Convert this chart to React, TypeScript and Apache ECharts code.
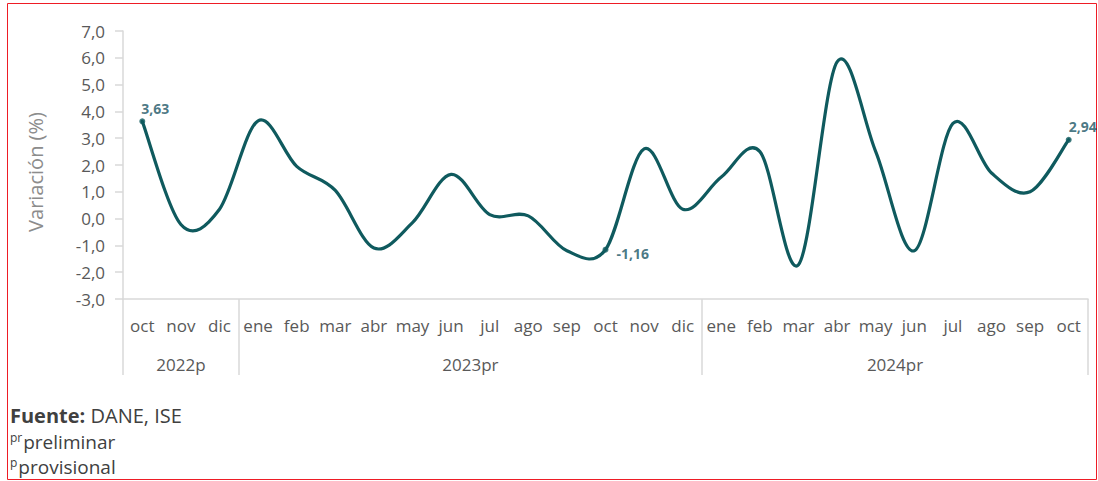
import React, { useEffect, useRef } from "react";
import * as echarts from "echarts";

const months = ["oct", "nov", "dic", "ene", "feb", "mar", "abr", "may", "jun", "jul", "ago", "sep", "oct", "nov", "dic", "ene", "feb", "mar", "abr", "may", "jun", "jul", "ago", "sep", "oct"];
const values = [3.63, -0.22, 0.35, 3.65, 1.95, 1.05, -1.1, -0.15, 1.65, 0.15, 0.1, -1.2, -1.16, 2.6, 0.35, 1.55, 2.5, -1.72, 5.85, 2.5, -1.2, 3.55, 1.7, 1.0, 2.94];
const yearGroups = ["2022p", "2023pr", "2024pr"];
const yearSizes = [3, 12, 10];
const labeledIdx = [0, 12, 24];
const yTicks = { min: -3, max: 7, interval: 1 };

const FONT = "Open Sans";
const LINE = "#0f5a5e";
const AXIS_TXT = "#595959";
const GRID_LINE = "#d9d9d9";

export default function App() {
  const ref = useRef<HTMLDivElement>(null);
  useEffect(() => {
    if (!ref.current) return;
    const chart = echarts.init(ref.current, null, { renderer: "svg" });
    const bounds: number[] = [0];
    yearSizes.forEach((s) => bounds.push(bounds[bounds.length - 1] + s));
    const mids = yearGroups.map((_, i) => (bounds[i] + bounds[i + 1]) / 2);
    const fmt = (v: number, d: number) => v.toFixed(d).replace(".", ",");
    const labelPos: any[] = [
      { position: "top", offset: [13, 2] },
      { position: "right", distance: 8, offset: [0, 4] },
      { position: "top", offset: [14, 2] },
    ];
    const markers = labeledIdx.map((i, k) => ({
      value: [i, values[i]],
      label: {
        show: true,
        formatter: fmt(values[i], 2),
        fontFamily: FONT,
        fontWeight: "bold",
        fontSize: 14,
        color: "#1b5565",
        ...labelPos[k],
      },
    }));

    const renderCurve = (params: any, api: any) => {
      if (params.dataIndex !== 0) return null;
      const p = values.map((v, i) => api.coord([i, v]));
      const n = p.length;
      const at = (i: number) => p[Math.max(0, Math.min(n - 1, i))];
      let d = `M${p[0][0]},${p[0][1]}`;
      for (let i = 0; i < n - 1; i++) {
        const p0 = at(i - 1), p1 = at(i), p2 = at(i + 1), p3 = at(i + 2);
        const c1x = p1[0] + (p2[0] - p0[0]) / 6;
        const c1y = p1[1] + (p2[1] - p0[1]) / 6;
        const c2x = p2[0] - (p3[0] - p1[0]) / 6;
        const c2y = p2[1] - (p3[1] - p1[1]) / 6;
        d += ` C${c1x},${c1y} ${c2x},${c2y} ${p2[0]},${p2[1]}`;
      }
      return {
        type: "path",
        shape: { pathData: d },
        style: { stroke: LINE, lineWidth: 3.2, fill: "none", lineJoin: "round", lineCap: "round" },
      };
    };

    chart.setOption({
      animation: false,
      backgroundColor: "#ffffff",
      grid: { left: 123, right: 10, top: 31, height: 268, containLabel: false },
      xAxis: [
        {
          type: "category",
          data: months,
          position: "bottom",
          boundaryGap: true,
          axisLine: { show: false },
          axisTick: { show: false },
          axisLabel: { interval: 0, margin: 18, fontSize: 17, color: AXIS_TXT, fontFamily: FONT },
          splitLine: { show: false },
        },
        {
          type: "value",
          min: 0,
          max: bounds[bounds.length - 1],
          position: "bottom",
          axisLine: { show: false },
          splitLine: { show: false },
          axisTick: {
            show: true,
            customValues: bounds,
            length: 76,
            lineStyle: { color: GRID_LINE, width: 1.5 },
          },
          axisLabel: {
            show: true,
            customValues: mids,
            margin: 57,
            fontSize: 17,
            color: AXIS_TXT,
            fontFamily: FONT,
            formatter: (v: number) => {
              const i = mids.findIndex((m) => Math.abs(m - v) < 1e-6);
              return i >= 0 ? yearGroups[i] : "";
            },
          },
        },
        {
          type: "category",
          data: months,
          position: "bottom",
          axisLine: { show: true, onZero: true, lineStyle: { color: GRID_LINE, width: 1.5 } },
          axisTick: { show: false },
          axisLabel: { show: false },
          splitLine: { show: false },
        },
      ],
      yAxis: {
        type: "value",
        min: yTicks.min,
        max: yTicks.max,
        interval: yTicks.interval,
        axisLine: { show: true, lineStyle: { color: GRID_LINE, width: 1.5 } },
        axisTick: { show: true, length: 8, lineStyle: { color: GRID_LINE, width: 1.5 } },
        axisLabel: {
          margin: 18,
          fontSize: 17,
          color: AXIS_TXT,
          fontFamily: FONT,
          formatter: (v: number) => fmt(v, 1),
        },
        splitLine: { show: false },
      },
      series: [
        {
          type: "custom",
          xAxisIndex: 0,
          data: values.map((v, i) => [i, v]),
          encode: { x: 0, y: 1 },
          renderItem: renderCurve,
          silent: true,
          z: 5,
        },
        {
          type: "scatter",
          xAxisIndex: 0,
          data: markers,
          symbol: "circle",
          symbolSize: 6,
          itemStyle: { color: LINE },
          z: 6,
        },
      ],
      graphic: [
        {
          type: "rect",
          shape: { x: 7.5, y: 3.5, width: 1089, height: 476 },
          style: { fill: "none", stroke: "#ee1c25", lineWidth: 1 },
          silent: true,
        },
        {
          type: "text",
          x: 35,
          y: 172,
          rotation: Math.PI / 2,
          style: {
            text: "Variación (%)",
            fontFamily: FONT,
            fontSize: 20,
            fill: "#8c8c8c",
            align: "center",
            verticalAlign: "middle",
          },
        },
        {
          type: "text",
          left: 10,
          top: 405,
          style: {
            text: "{b|Fuente:} DANE, ISE",
            fontFamily: FONT,
            fontSize: 20,
            fill: "#404040",
            rich: {
              b: { fontFamily: FONT, fontSize: 20, fontWeight: "bold", fill: "#404040" },
            },
          },
        },
        {
          type: "text",
          left: 10,
          top: 431,
          style: {
            text: "{s|pr}preliminar",
            fontFamily: FONT,
            fontSize: 19,
            fill: "#404040",
            rich: { s: { fontFamily: FONT, fontSize: 12, fill: "#404040", verticalAlign: "top", padding: [0, 1, 9, 0] } },
          },
        },
        {
          type: "text",
          left: 10,
          top: 456,
          style: {
            text: "{s|p}provisional",
            fontFamily: FONT,
            fontSize: 19,
            fill: "#404040",
            rich: { s: { fontFamily: FONT, fontSize: 12, fill: "#404040", verticalAlign: "top", padding: [0, 1, 9, 0] } },
          },
        },
      ],
    });
    return () => chart.dispose();
  }, []);
  return (
    <div
      ref={ref}
      style={{ position: "fixed", left: 0, top: 0, width: 1098, height: 481, background: "#fff" }}
    />
  );
}
